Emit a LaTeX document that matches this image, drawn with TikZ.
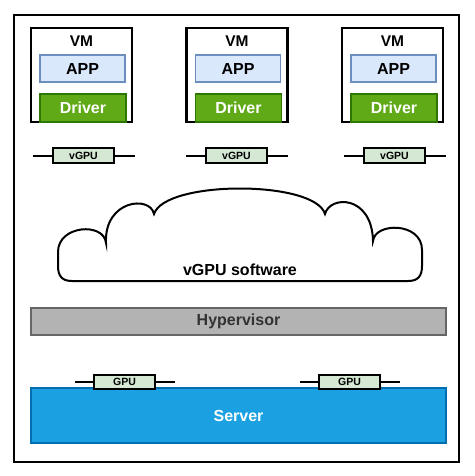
\documentclass[tikz,border=0pt]{standalone}
\usepackage{fontspec}
\setmainfont{Liberation Sans}
\definecolor{appfill}{HTML}{DAE8FC}
\definecolor{appline}{HTML}{6C8EBF}
\definecolor{drvfill}{HTML}{60A917}
\definecolor{drvline}{HTML}{2D7600}
\definecolor{gpufill}{HTML}{D5E8D4}
\definecolor{hypfill}{HTML}{B3B3B3}
\definecolor{hypline}{HTML}{666666}
\definecolor{hyptext}{HTML}{333333}
\definecolor{srvfill}{HTML}{1BA1E2}
\definecolor{srvline}{HTML}{006EAF}
\tikzset{
  vmbox/.style={draw=black, line width=2.4pt, fill=white, minimum width=101pt, minimum height=94pt, inner sep=0pt},
  vmlabel/.style={font=\bfseries\fontsize{15.5}{16}\selectfont, inner sep=0pt},
  appbox/.style={draw=appline, line width=1.6pt, fill=appfill, minimum width=85pt, minimum height=27pt, inner sep=0pt, font=\bfseries\fontsize{16}{17}\selectfont},
  drvbox/.style={draw=drvline, line width=1.6pt, fill=drvfill, text=white, minimum width=86pt, minimum height=28pt, inner sep=0pt, font=\bfseries\fontsize{16}{17}\selectfont},
  gpubox/.style={draw=black, line width=2pt, fill=gpufill, minimum width=61pt, minimum height=15pt, inner sep=0pt, font=\bfseries\fontsize{10.5}{11}\selectfont},
  wire/.style={draw=black, line width=2pt},
  hypbox/.style={draw=hypline, line width=1.8pt, fill=hypfill, text=hyptext, minimum width=415pt, minimum height=27pt, inner sep=0pt, font=\bfseries\fontsize{16}{17}\selectfont},
  srvbox/.style={draw=srvline, line width=1.6pt, fill=srvfill, text=white, minimum width=415pt, minimum height=55pt, inner sep=0pt, font=\bfseries\fontsize{16}{17}\selectfont},
  cloudline/.style={draw=black, line width=2pt, fill=white},
}
\begin{document}
\begin{tikzpicture}[x=1pt, y=-1pt]
\useasboundingbox[fill=white] (0,0) rectangle (474,476);
% outer frame
\draw[line width=2.6pt] (14,15) rectangle (459,462);

% VMs
\foreach \i/\cx in {1/81.5, 2/237, 3/392.5} {
  \node[vmbox] (vm\i) at (\cx,75) {};
  \node[vmlabel] (vml\i) at (\cx,41.5) {VM};
  \node[appbox] (app\i) at (\cx+1,68.5) {APP};
  \node[drvbox] (drv\i) at (\cx+1.5,108) {Driver};
}

% vGPUs
\foreach \i/\cx in {1/83.5, 2/236.5, 3/394.5} {
  \coordinate (vwl\i) at (\cx-51,155.5);
  \coordinate (vwr\i) at (\cx+51,155.5);
  \node[gpubox] (vg\i) at (\cx,155.5) {vGPU};
  \draw[wire] (vwl\i) -- (vg\i.west);
  \draw[wire] (vg\i.east) -- (vwr\i);
}

% cloud
\draw[cloudline] (72,281) .. controls (62,281) and (58,276) .. (58,266)
  -- (58,252) .. controls (58,225) and (104,222) .. (106,243)
  .. controls (104,200) and (150,195) .. (154,214)
  .. controls (165,180) and (315,180) .. (325,214)
  .. controls (330,195) and (372,195) .. (373,241)
  .. controls (375,222) and (422,222) .. (422,250)
  -- (422,266) .. controls (422,276) and (418,281) .. (408,281) -- cycle;
\node[font=\bfseries\fontsize{16}{17}\selectfont, inner sep=0pt] (sw) at (240,269.5) {vGPU software};

% hypervisor
\node[hypbox] (hyp) at (238.5,321.5) {Hypervisor};

% server
\node[srvbox] (srv) at (238.5,415.5) {Server};

% GPUs
\foreach \i/\cx in {1/124.5, 2/349.5} {
  \coordinate (gwl\i) at (\cx-50,381.5);
  \coordinate (gwr\i) at (\cx+50,381.5);
  \node[gpubox, minimum height=14pt] (g\i) at (\cx,381.5) {GPU};
  \draw[wire] (gwl\i) -- (g\i.west);
  \draw[wire] (g\i.east) -- (gwr\i);
}
\end{tikzpicture}
\end{document}
